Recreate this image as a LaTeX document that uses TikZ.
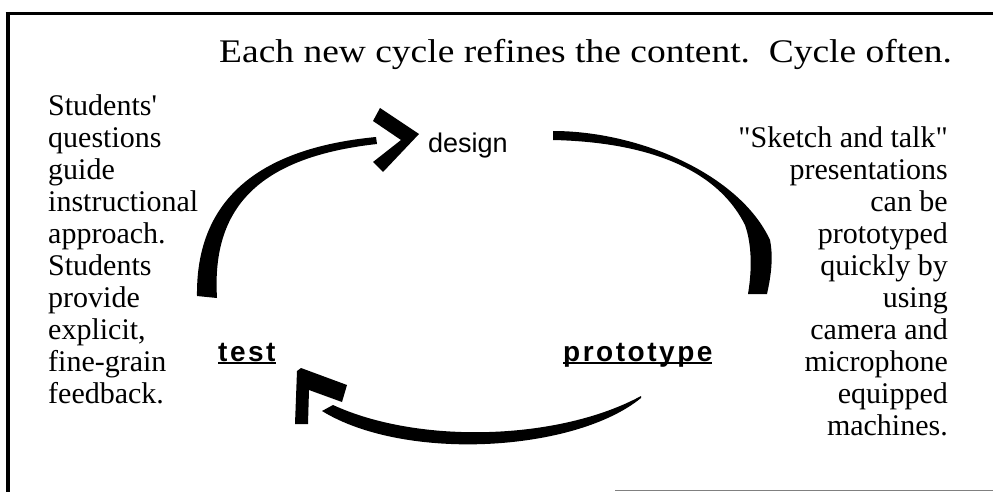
\documentclass[tikz,border=0pt]{standalone}
\usepackage{graphicx}
\usepackage{fontspec}
\setmainfont{Liberation Serif}
\newfontfamily\stagefont{Liberation Sans}
\newfontfamily\loopfont[LetterSpace=9]{Liberation Sans}
\usetikzlibrary{positioning}

\newcommand\loopline[1]{\setbox0=\hbox{#1}\rlap{\rule[-3pt]{\wd0}{1.8pt}}\box0}

\tikzset{
  remark/.style={font=\fontsize{30}{32}\selectfont,inner sep=0pt},
  stage/.style={font=\fontsize{27}{30}\selectfont\stagefont,inner sep=0pt},
  loopstage/.style={font=\fontsize{28}{30}\selectfont\loopfont\bfseries,inner sep=0pt},
  brush/.style={fill=black,draw=none},
}

\begin{document}
\begin{tikzpicture}[x=1pt,y=-1pt]
  \useasboundingbox (0,0) rectangle (993,492);
  % frame
  \draw[line width=3.5pt] (5.5,13.5) -- (993,13.5);
  \draw[line width=3.5pt] (8,12) -- (8,492);
  \draw[gray,line width=1.5pt] (615,490.5) -- (993,490.5);

  \node[remark,font=\fontsize{33}{33}\selectfont,anchor=base west] (title) at (219,63)
    {\scalebox{1.136}[1]{Each new cycle refines the content.\ \ Cycle often.}};

  \node[remark,anchor=base west,align=left] (left) at (48,403)
    {Students\textquotesingle\\questions\\guide\\instructional\\approach.\\Students\\provide\\explicit,\\fine-grain\\feedback.};
  \node[remark,anchor=base east,align=right] (right) at (948,435)
    {\textquotedbl Sketch and talk\textquotedbl\\presentations\\can be\\prototyped\\quickly by\\using\\camera and\\microphone\\equipped\\machines.};

  \node[stage,anchor=base west] (design) at (428,153) {design};
  \node[loopstage,anchor=base west] (test) at (218,361) {\loopline{test}};
  \node[loopstage,anchor=base west] (prototype) at (563,361) {\loopline{prototype}};

  % test -> design
  \fill[brush] (197,296) .. controls (196,215) and (240,150) .. (376,137)
    -- (377,144) .. controls (250,158) and (212,215) .. (217,298) -- cycle;
  \fill[brush] (380,108) -- (419,134) -- (383,172) -- (373,162) -- (401,140) -- (373,121) -- cycle;
  % design -> prototype
  \fill[brush] (553,131) .. controls (640,131) and (740,175) .. (770,240)
    .. controls (774,260) and (770,280) .. (767,294) -- (748,294)
    .. controls (752,270) and (752,245) .. (745,225)
    .. controls (715,165) and (640,142) .. (553,140) -- cycle;
  % prototype -> test
  \fill[brush] (641,396) .. controls (560,440) and (420,445) .. (333,405)
    -- (322,411) .. controls (405,462) and (575,452) .. (641,398) -- cycle;
  \fill[brush] (295,424) -- (297,371) -- (301,368) -- (347,385) -- (342,402) -- (309,390) -- (308,424) -- cycle;
\end{tikzpicture}
\end{document}
